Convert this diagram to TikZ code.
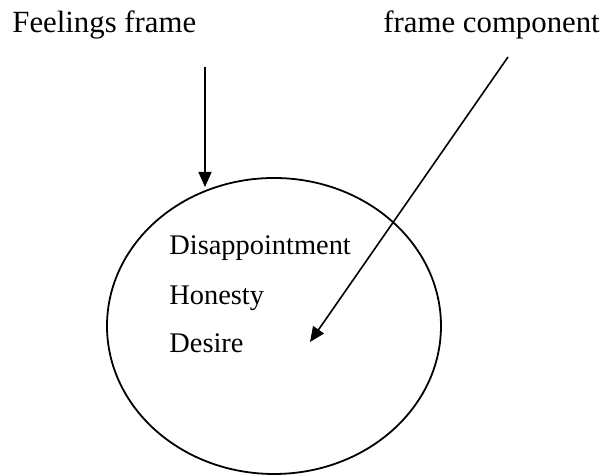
\documentclass[tikz,border=0pt]{standalone}
\usepackage{fontspec}
\setmainfont{Liberation Serif}
\usetikzlibrary{arrows.meta, shapes.geometric}
\tikzset{
    heading/.style={
        anchor=base west, inner sep=0pt,
        font=\fontsize{15.4}{18}\selectfont
    },
    feeling/.style={
        anchor=base west, inner sep=0pt,
        font=\fontsize{14.2}{17}\selectfont
    },
    frameoval/.style={
        ellipse, draw, line width=0.9pt,
        minimum width=167pt, minimum height=148pt, inner sep=0pt
    },
    arr/.style={-{Triangle[length=7.5pt, width=6.5pt]}, line width=0.8pt}
}
\begin{document}
\begin{tikzpicture}[x=0.5pt, y=0.5pt]
    \useasboundingbox (0,0) rectangle (606,475);

    % --- Frame ---
    \node[frameoval] (oval) at (274,149) {};

    % --- Labels above ---
    \node[heading] (feelings) at (12,442) {Feelings frame};
    \node[heading] (component) at (383,442) {frame component};

    % --- Components inside the frame ---
    \node[feeling] (disap) at (169,220) {Disappointment};
    \node[feeling] (honesty) at (169,170) {Honesty};
    \node[feeling] (desire) at (169,122) {Desire};

    % --- Arrow ends ---
    \coordinate (ftail) at (205,408);
    \coordinate (fhead) at (205,288);
    \coordinate (ctail) at (508,418);
    \coordinate (chead) at (310,133);

    % --- Arrows ---
    \draw[arr] (ftail) -- (fhead);
    \draw[arr] (ctail) -- (chead);

\end{tikzpicture}
\end{document}
